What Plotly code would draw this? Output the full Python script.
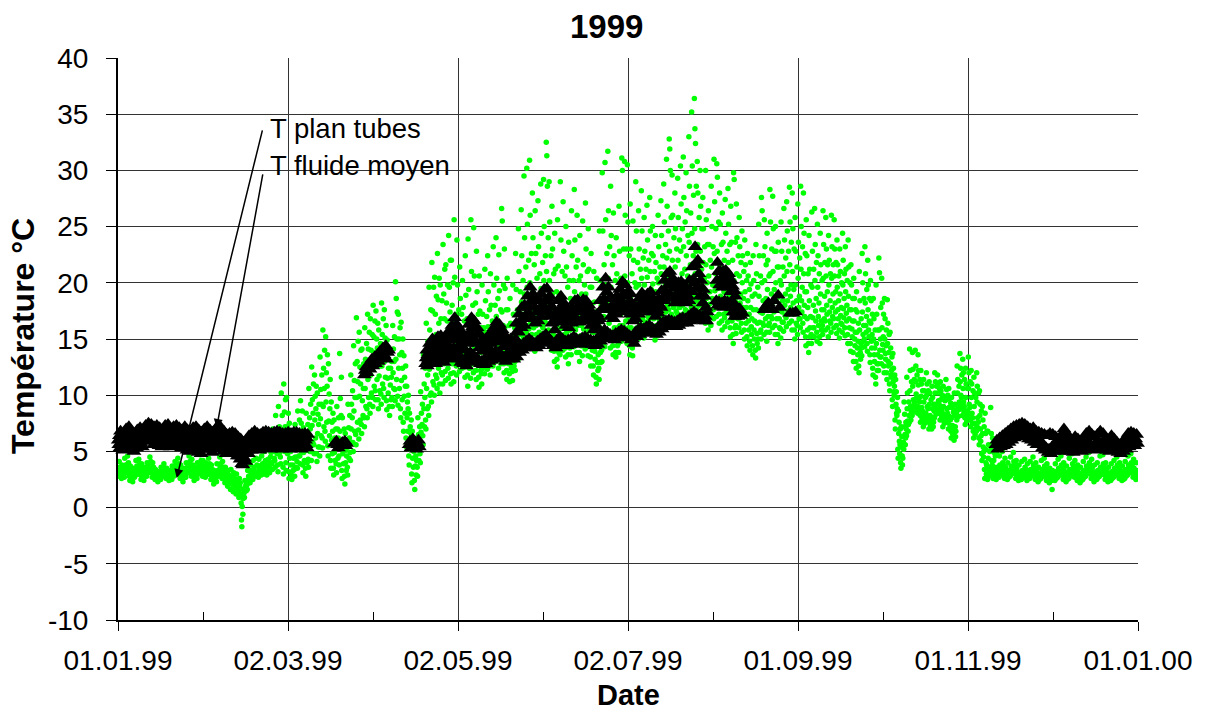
import plotly.graph_objects as go

# ---------------- data ----------------
tick_labels = ["01.01.99", "02.03.99", "02.05.99", "02.07.99", "01.09.99", "01.11.99", "01.01.00"]
y_ticks = [-10, -5, 0, 5, 10, 15, 20, 25, 30, 35, 40]
y_tick_labels = ["-10", "-5", "0", "5", "10", "15", "20", "25", "30", "35", "40"]
month_lengths = [31, 28, 31, 30, 31, 30, 31, 31, 30, 31, 30, 31]

# T plan tubes: samples per day (each inner list = one day)
plan_jan = [[3.2,2.8,4.1,3.6],[2.9,2.6,3.8,3.3],[3.0,2.7,4.4,3.5],[3.4,3.1,4.6,3.9],[2.8,2.4,3.7,3.1],
            [2.6,2.3,3.5,3.0],[3.1,2.9,4.2,3.4],[3.3,3.0,4.3,3.7],[2.9,2.5,3.9,3.2],[2.7,2.4,3.6,3.0],
            [3.0,2.8,4.0,3.4],[3.4,3.2,4.5,3.8],[3.1,2.7,4.0,3.5],[2.8,2.5,3.4,3.0],[2.6,2.3,3.2,2.9],
            [2.7,2.5,3.6,3.1],[3.0,2.8,3.9,3.3],[2.9,2.6,3.5,3.1],[2.6,2.4,3.3,2.8],[2.8,2.5,3.7,3.0],
            [3.1,2.9,4.1,3.5],[3.3,3.0,4.4,3.7],[2.9,2.6,3.8,3.2],[2.7,2.3,3.5,3.0],[3.0,2.7,4.0,3.4],
            [3.4,3.1,4.6,3.9],[3.2,2.8,4.3,3.6],[2.8,2.4,3.6,3.1],[3.0,2.6,4.0,3.3],[3.5,3.2,4.7,4.0],
            [3.1,2.8,4.2,3.5]]
plan_feb = [[3.0,2.7,4.0,3.4],[3.3,3.0,4.4,3.7],[2.9,2.5,3.8,3.2],[2.5,2.1,3.3,2.8],[2.7,2.3,3.9,3.0],
            [3.2,2.9,4.5,3.6],[3.0,2.6,4.1,3.4],[2.6,2.2,3.6,2.9],[2.4,1.9,3.3,2.7],[2.2,1.6,3.4,2.6],
            [2.0,1.4,3.1,2.3],[1.8,1.2,3.0,2.2],[1.5,0.9,2.6,1.9],[0.4,-1.1,-1.7,0.1,1.2],[1.3,0.9,2.4,1.8],
            [2.0,1.6,3.3,2.5],[2.6,2.2,3.8,3.0],[2.9,2.5,4.2,3.3],[3.1,2.8,4.4,5.2],[3.0,2.7,4.3,3.5],
            [3.2,2.9,4.6,3.8],[3.4,3.0,5.0,4.0],[3.3,2.9,5.4,4.1],[3.6,3.1,6.2,4.5],[3.9,3.4,7.0,5.0],
            [4.2,3.6,8.2,5.5],[3.8,3.2,9.0,5.8],[4.5,3.9,10.2,6.4]]
plan_mar = [[3.6,3.0,11.0,6.0,8.5],[4.0,3.3,9.8,5.5,7.2],[3.2,2.6,7.5,4.4,5.6],[2.9,2.5,6.0,3.8],
            [3.4,2.8,7.4,4.5],[4.1,3.5,8.6,5.4,6.8],[4.6,3.9,9.5,6.1,7.5],[3.8,3.1,7.1,4.9,5.9],
            [3.5,2.8,8.4,5.1,6.4],[4.3,3.6,10.6,6.2,8.0],[5.0,4.2,12.5,7.3,9.6],[5.6,4.8,11.8,7.8,9.9],
            [4.8,4.1,10.2,6.6,8.3],[5.4,4.6,13.4,7.9,10.5],[6.2,5.3,15.8,9.0,12.4],[6.8,5.9,15.2,9.4,12.0],
            [5.5,4.6,12.8,7.7,10.1],[4.2,3.5,9.4,6.0,7.6],[3.5,2.9,7.8,4.9,6.2],[3.9,3.1,9.0,5.5,7.0],
            [4.6,3.8,13.7,6.8,9.7],[3.3,2.6,8.0,4.8,6.0],[2.8,2.1,6.6,4.0,5.1],[3.6,2.9,9.2,5.4,7.1],
            [4.9,4.2,11.8,7.0,9.2],[5.8,5.0,14.4,8.6,11.3],[6.5,5.6,16.9,9.8,13.0],[6.9,6.1,15.6,9.9,12.5],
            [7.4,6.6,14.1,9.5,11.8],[8.0,7.2,16.0,10.6,13.2],[8.8,8.0,17.2,11.4,14.1]]
plan_apr = [[9.2,8.4,16.8,11.8,14.0],[9.8,9.0,18.0,12.5,15.2],[10.4,9.6,17.5,12.9,15.0],[9.6,8.8,15.8,11.7,13.6],
            [10.1,9.2,18.2,12.6,15.4],[10.6,9.8,17.6,13.0,15.1],[9.5,8.7,14.9,11.5,13.2],[9.0,8.2,13.8,10.9,12.4],
            [9.8,9.0,16.2,12.0,14.1],[10.5,9.5,20.1,13.2,18.6],[9.9,9.1,17.2,12.4,15.0],[8.8,8.0,16.5,11.3,13.8],
            [7.6,6.8,13.5,9.9,11.6],[6.2,5.4,10.8,8.0,9.4],[4.6,3.8,8.4,6.1,7.2],[3.0,2.2,6.8,4.4,5.5],
            [2.4,1.6,5.9,3.7,4.6],[3.6,2.8,8.0,5.2,6.5],[4.8,4.0,10.3,6.7,8.4],[6.4,5.6,13.6,8.8,11.0],
            [7.8,7.0,16.4,10.6,13.2],[9.0,8.2,19.6,12.3,15.8],[10.2,9.4,21.8,13.6,17.5],[10.9,10.0,20.5,14.0,17.2],
            [11.5,10.6,22.6,14.8,18.5],[11.0,10.2,19.8,14.1,16.8],[11.8,11.0,23.4,15.2,19.0],[12.1,11.3,21.6,15.0,18.2],
            [12.4,11.5,24.2,15.8,19.6],[11.9,11.0,22.0,15.1,18.0]]
plan_may = [[12.0,11.2,25.6,15.8,20.5,13.5],[12.6,11.8,23.8,16.2,19.8,14.0],[12.9,12.1,21.4,15.9,18.6,14.2],
            [13.2,12.4,20.2,15.6,17.8,14.4],[12.5,11.6,22.4,15.4,18.9,13.7],[11.8,10.8,23.9,15.0,19.4,13.2],
            [12.4,11.5,25.6,16.0,21.0,13.9],[12.8,12.0,24.9,16.4,20.6,14.3],[12.2,11.4,22.8,15.6,19.2,13.6],
            [11.6,10.7,20.6,14.6,17.5,12.9],[11.9,11.0,19.8,14.8,17.2,13.1],[12.7,11.9,21.2,15.6,18.4,13.9],
            [13.1,12.3,22.4,16.1,19.2,14.4],[12.6,11.8,20.8,15.4,18.0,13.8],[13.4,12.6,23.2,16.5,19.8,14.6],
            [13.8,13.0,24.0,17.0,20.4,15.1],[13.2,12.4,22.5,16.2,19.3,14.4],[13.6,12.8,26.6,17.4,25.5,15.0],
            [12.8,12.0,23.0,16.0,19.5,14.0],[12.2,11.4,20.4,15.0,17.6,13.3],[11.9,11.2,18.6,14.2,16.4,12.8],
            [12.1,11.3,19.8,14.8,17.2,13.0],[13.0,12.2,22.6,16.0,19.4,14.2],[14.0,13.2,24.8,17.4,21.0,15.4],
            [14.8,14.0,26.5,18.3,22.4,16.2],[15.2,14.4,29.5,19.0,24.0,16.8],[15.6,14.8,30.2,19.6,25.2,17.2],
            [15.9,15.0,30.9,20.0,26.0,17.5],[15.4,14.5,28.0,19.2,24.0,17.0],[14.8,13.9,26.4,18.4,22.6,16.2],
            [15.0,14.2,27.3,18.9,23.2,16.6]]
plan_jun = [[15.5,14.6,28.8,19.5,24.4,17.1],[16.0,15.2,29.2,20.2,25.0,17.6],[16.4,15.5,32.5,21.0,31.3,18.0,28.6],
            [15.8,14.9,29.0,20.2,25.4,17.4],[14.9,14.0,26.8,19.0,23.0,16.4],[13.9,13.0,24.4,17.6,21.2,15.2],
            [13.2,12.5,25.6,17.2,21.5,14.8],[14.4,13.6,29.0,18.8,23.8,16.0],[14.8,14.0,27.2,18.6,22.8,16.3],
            [14.2,13.4,25.0,17.8,21.4,15.6],[13.6,12.8,23.6,17.0,20.2,15.0],[14.5,13.6,26.4,18.4,22.4,16.0],
            [15.2,14.3,28.3,19.2,23.8,16.8],[14.6,13.8,26.0,18.5,22.0,16.2],[13.8,13.0,24.2,17.4,20.6,15.3],
            [14.4,13.5,25.5,18.1,21.6,15.9],[15.0,14.1,27.1,19.0,23.0,16.6],[14.3,13.5,24.8,17.9,21.2,15.8],
            [13.4,12.6,22.6,16.8,19.6,14.8],[12.6,11.8,21.0,15.6,18.3,13.9],[11.6,11.0,20.4,14.6,17.5,12.9],
            [12.4,11.4,24.6,16.0,20.2,13.8],[14.0,13.0,29.8,18.6,24.6,15.6],[15.2,14.3,30.7,19.8,25.6,16.9],
            [15.8,15.0,31.7,20.4,26.4,17.5],[15.0,14.2,28.6,19.6,24.2,16.8],[14.4,13.6,26.2,18.6,22.4,16.0],
            [13.8,13.4,24.0,17.4,20.8,15.2],[14.6,13.8,26.8,18.6,22.8,16.2],[15.6,14.8,31.1,20.2,30.0,17.4]]
plan_jul = [[16.0,15.2,30.8,20.6,26.0,17.8],[15.4,14.6,30.5,20.0,25.4,17.0],[14.4,13.6,27.0,18.8,23.0,16.0],
            [14.2,13.5,25.5,18.2,22.0,15.6],[15.4,14.6,29.0,19.6,24.6,17.0],[15.8,15.0,26.4,19.8,23.0,17.3],
            [16.2,15.4,28.2,20.4,24.6,17.8],[15.9,15.1,25.8,19.8,22.8,17.4],[16.4,15.6,26.9,20.5,23.8,18.0],
            [16.8,16.0,27.6,21.0,24.6,18.4],[16.2,15.4,25.0,19.9,22.4,17.7],[15.6,14.9,24.2,19.2,21.8,17.1],
            [16.1,15.3,26.0,20.0,23.2,17.6],[16.6,15.8,27.3,20.8,24.2,18.2],[17.0,16.3,28.8,21.4,25.4,18.6],
            [17.4,16.6,31.0,22.2,26.8,19.0],[17.6,16.8,32.8,22.8,31.9,19.3,30.0],[17.2,16.5,29.6,22.0,26.0,18.9],
            [16.9,16.2,28.0,21.4,24.8,18.5],[17.3,16.6,29.3,22.0,25.8,18.9],[17.8,17.0,30.4,22.8,27.0,19.5],
            [18.0,17.2,31.2,23.2,27.6,19.8],[17.6,16.8,29.8,22.4,26.4,19.3],[18.2,17.4,33.0,23.6,28.6,20.0],
            [18.6,17.8,35.2,24.4,30.4,20.5],[18.8,18.0,36.4,24.8,33.7,20.8,32.4],[18.4,17.6,30.8,23.4,28.0,20.2],
            [18.0,17.2,30.0,22.8,26.8,19.8],[17.4,16.7,27.6,21.8,24.8,19.0],[17.0,16.4,30.0,21.6,25.6,18.6],
            [16.5,15.8,26.4,20.6,23.4,18.1]]
plan_aug = [[17.0,16.2,28.6,21.4,25.0,18.6],[17.6,16.8,31.0,22.6,27.2,19.3],[17.8,17.0,30.6,22.8,29.4,19.5],
            [17.2,16.4,28.0,21.6,25.2,18.8],[16.6,15.8,26.2,20.6,23.6,18.1],[16.9,16.1,27.4,21.2,24.4,18.4],
            [17.3,16.5,28.4,21.8,25.2,18.9],[16.0,15.2,26.8,20.4,23.6,17.6],[15.4,14.6,29.8,20.2,29.2,17.0],
            [16.2,15.5,27.0,20.8,24.0,17.8],[16.8,16.0,25.8,20.6,23.2,18.2],[16.4,15.6,24.6,20.0,22.4,17.8],
            [15.8,15.0,23.8,19.2,21.6,17.2],[15.2,14.4,22.6,18.4,20.6,16.6],[14.8,14.0,21.8,17.8,19.9,16.1],
            [14.4,13.6,22.4,17.6,20.2,15.8],[14.0,13.3,23.4,17.6,20.8,15.5],[15.0,14.2,25.2,18.8,22.4,16.5],
            [15.8,15.0,27.6,20.0,26.4,17.3],[16.2,15.4,25.6,20.2,23.2,17.6],[15.6,14.8,24.4,19.4,22.0,17.0],
            [16.4,15.6,28.3,20.8,25.4,17.9],[16.8,16.0,27.7,21.0,24.8,18.3],[16.2,15.4,25.0,20.0,22.8,17.6],
            [15.4,14.6,23.6,19.0,21.4,16.8],[15.9,15.1,25.4,19.8,22.8,17.4],[16.5,15.7,26.6,20.6,23.8,18.0],
            [16.9,16.1,27.2,21.0,24.6,18.4],[17.2,16.4,28.5,21.6,25.4,18.8],[16.6,15.8,28.0,21.0,24.8,18.2],
            [15.8,15.0,25.8,19.8,22.8,17.3]]
plan_sep = [[16.2,15.4,27.0,20.4,23.6,17.8],[16.8,16.0,28.6,21.2,25.0,18.4],[16.4,15.6,28.0,20.8,24.4,18.0],
            [15.2,14.4,25.6,19.2,22.4,16.8],[14.6,13.8,24.2,18.4,21.2,16.0],[15.4,14.6,26.3,19.6,22.8,16.9],
            [16.0,15.2,26.6,20.2,23.4,17.5],[15.6,14.8,25.2,19.6,22.4,17.0],[15.2,14.6,24.4,19.0,21.6,16.6],
            [16.2,15.4,26.4,20.4,23.4,17.6],[16.6,15.8,25.8,20.6,23.0,18.0],[16.0,15.2,24.2,19.8,22.0,17.4],
            [16.4,15.6,26.0,20.4,23.2,17.8],[16.8,16.0,25.6,20.6,23.0,18.2],[16.2,15.5,23.8,19.6,21.6,17.6],
            [15.8,15.1,23.0,19.0,21.0,17.1],[16.3,15.6,24.4,19.8,22.0,17.7],[16.0,15.3,23.2,19.2,21.2,17.3],
            [15.4,14.6,23.8,18.8,21.4,16.8],[14.6,13.9,21.6,17.6,19.8,15.9],[13.8,13.0,20.4,16.6,18.6,15.0],
            [13.0,12.4,19.2,15.6,17.4,14.2],[12.6,12.0,21.0,15.8,18.4,13.8],[14.2,13.5,22.6,17.4,20.0,15.4],
            [15.0,14.3,23.2,18.2,20.8,16.2],[14.6,13.9,22.0,17.6,19.8,15.8],[13.6,12.9,20.2,16.4,18.4,14.8],
            [12.4,11.8,18.6,15.0,16.8,13.6],[11.6,11.0,19.8,14.6,17.2,12.8],[12.8,12.2,22.2,15.8,20.9,14.0]]
plan_oct = [[13.4,12.8,20.4,16.0,18.2,14.5],[12.6,12.0,18.6,15.0,16.8,13.7],[12.0,11.4,18.5,14.6,16.4,13.0],
            [11.0,10.4,15.6,12.8,14.2,11.8],[9.6,9.0,13.7,11.2,12.4,10.3],[7.8,7.0,11.4,9.2,10.3,8.4],
            [5.2,4.4,8.6,6.6,7.6,5.9],[4.0,3.5,7.2,5.4,6.3,4.6],[5.8,5.2,9.4,7.2,8.3,6.5],
            [7.0,6.4,11.6,8.8,10.2,7.7],[8.2,7.6,14.1,10.4,12.2,9.0],[8.8,8.2,13.8,10.8,12.3,9.6],
            [9.4,8.8,14.0,11.2,12.6,10.1],[9.0,8.4,13.6,10.9,12.2,9.7],[8.2,7.6,12.2,9.9,11.0,8.9],
            [7.8,7.2,11.4,9.4,10.4,8.4],[8.4,7.8,12.0,10.0,11.0,9.0],[7.6,7.0,11.2,9.2,10.2,8.2],
            [7.4,7.0,10.8,8.8,9.8,8.0],[8.6,8.0,12.0,10.2,11.2,9.2],[9.0,8.4,11.8,10.2,11.0,9.5],
            [8.4,7.8,11.2,9.6,10.4,8.9],[7.8,7.2,10.8,9.0,9.9,8.3],[8.2,7.6,11.4,9.6,10.5,8.8],
            [7.6,7.0,10.6,8.9,9.7,8.1],[6.8,6.2,9.8,8.0,8.9,7.3],[6.6,6.0,10.2,8.2,9.2,7.2],
            [8.4,7.8,12.6,10.2,11.4,9.0],[9.4,8.8,13.7,11.2,12.4,10.0],[8.8,8.2,13.2,10.6,12.0,9.4],
            [8.0,7.4,12.4,9.8,11.0,8.6]]
plan_nov = [[8.6,8.0,13.4,10.6,12.0,9.2],[7.8,7.2,12.2,9.8,11.0,8.4],[6.8,6.2,11.6,9.0,10.2,7.5],
            [7.4,6.8,12.0,9.4,10.8,8.0],[6.2,5.6,10.4,8.2,9.2,7.0],[4.8,4.2,9.0,6.6,7.8,5.4],
            [3.4,2.6,8.4,5.2,6.6,4.0],[3.0,2.5,6.8,4.4,5.6,3.5],[3.6,3.0,8.9,5.3,6.6,4.2],
            [3.2,2.6,5.8,4.2,4.9,3.6],[3.0,2.5,4.8,3.6],[3.2,2.7,4.6,3.8],[3.4,2.9,5.0,4.0],
            [3.1,2.6,4.4,3.6],[2.9,2.5,4.0,3.3],[3.2,2.8,4.5,3.7],[3.5,3.1,4.9,4.1],[3.0,2.6,4.2,3.5],
            [2.7,2.4,3.8,3.1],[2.9,2.5,4.1,3.3],[3.1,2.7,4.3,3.6],[2.8,2.4,3.9,3.2],[3.0,2.6,4.1,3.4],
            [3.3,2.9,4.5,3.8],[2.9,2.5,4.0,3.3],[2.7,2.3,3.6,3.0],[3.0,2.6,4.2,3.4],[3.2,2.8,4.4,3.7],
            [2.8,2.4,3.9,3.2],[2.6,2.2,3.5,2.9]]
plan_dec = [[2.4,1.6,3.3,2.8],[2.8,2.4,3.9,3.2],[3.1,2.7,4.3,3.5],[3.3,2.9,4.6,3.8],[2.9,2.5,4.0,3.3],
            [2.7,2.3,3.7,3.1],[3.0,2.6,4.4,3.4],[3.4,3.0,4.8,3.9],[3.1,2.7,4.2,3.5],[2.8,2.4,3.8,3.2],
            [2.6,2.2,3.6,3.0],[2.9,2.5,4.1,3.3],[3.2,2.8,4.5,3.7],[3.5,3.1,4.9,4.0],[3.0,2.6,4.3,3.5],
            [2.7,2.3,3.8,3.1],[2.9,2.5,4.0,3.3],[3.2,2.8,4.6,3.6],[3.4,3.0,4.7,3.9],[2.9,2.5,4.0,3.3],
            [2.6,2.3,3.6,3.0],[2.8,2.4,3.9,3.2],[3.1,2.7,4.2,3.5],[3.3,2.9,4.5,3.8],[2.9,2.6,4.0,3.4],
            [2.7,2.4,3.7,3.1],[3.0,2.6,4.1,3.4],[3.3,2.9,4.6,3.8],[3.5,3.1,4.8,4.0],[3.1,2.7,4.3,3.5],
            [2.9,2.5,4.0,3.3]]

# further T plan tubes samples of the same days (the dense lower part of the cloud)
plan_jan_b = [[3.5,3.0],[3.1,2.8],[3.8,3.2],[4.0,3.6],[3.3,2.9],[2.9,2.7],[3.7,3.2],[3.9,3.4],[3.4,3.0],[3.2,2.8],
              [3.6,3.1],[4.1,3.6],[3.6,3.2],[3.1,2.7],[2.9,2.6],[3.3,2.9],[3.5,3.1],[3.2,2.8],[2.9,2.6],[3.3,2.8],
              [3.7,3.2],[3.9,3.4],[3.4,3.0],[3.1,2.7],[3.6,3.1],[4.1,3.6],[3.8,3.3],[3.3,2.9],[3.6,3.0],[4.2,3.7],
              [3.7,3.3]]
plan_feb_b = [[3.6,3.1],[3.9,3.4],[3.4,3.0],[3.0,2.5],[3.3,2.8],[3.9,3.3],[3.6,3.1],[3.1,2.6],[2.9,2.3],[2.8,2.1],
              [2.6,1.8],[2.5,1.6],[2.2,1.2],[-0.6,0.8,1.6],[2.0,1.5],[2.8,2.2],[3.3,2.7],[3.6,3.0],[3.8,3.2],[3.7,3.1],
              [3.9,3.4],[4.2,3.6],[4.3,3.7],[4.9,4.0],[5.6,4.4],[6.4,4.8],[7.2,4.9],[8.2,5.6]]
plan_mar_b = [[5.0,7.2,9.6],[4.8,6.6,8.4],[3.8,5.0,6.6],[3.3,4.4,5.2],[3.6,5.2,6.4],[4.6,6.2,7.8],[5.0,6.8,8.6],
              [4.2,5.4,6.6],[4.0,5.8,7.4],[5.0,7.0,9.2],[5.8,8.4,11.0],[6.2,8.8,10.8],[5.4,7.4,9.2],[6.4,9.2,11.8],
              [7.2,10.6,14.0],[7.6,10.8,13.6],[6.4,8.8,11.4],[4.8,6.8,8.4],[4.2,5.6,7.0],[4.4,6.2,8.0],[5.4,8.2,11.6],
              [3.9,5.4,7.0],[3.3,4.6,5.8],[4.4,6.2,8.2],[5.8,8.0,10.4],[6.8,9.8,12.8],[7.6,11.2,14.8],[7.8,11.0,14.0],
              [8.2,10.6,12.8],[9.0,11.8,14.6],[9.8,12.6,15.6]]
plan_apr_b = [[10.2,13.0,15.4],[10.8,13.8,16.6],[11.4,14.2,16.4],[10.4,12.6,14.6],[11.0,13.8,16.8],[11.6,14.0,16.2],
              [10.2,12.4,14.0],[9.6,11.6,13.0],[10.6,13.0,15.2],[11.4,15.0,17.4],[10.6,13.6,16.0],[9.6,12.4,15.0],
              [8.4,10.8,12.6],[6.8,8.8,10.0],[5.2,6.6,7.8],[3.6,5.0,6.2],[2.9,4.2,5.2],[4.2,5.8,7.2],[5.4,7.4,9.2],
              [7.2,9.8,12.4],[8.8,11.8,14.8],[10.0,13.8,17.6],[11.2,15.2,19.6],[11.8,15.4,18.8],[12.4,16.4,20.4],
              [12.0,15.2,18.4],[12.8,16.8,21.2],[13.0,16.6,19.8],[13.4,17.4,22.0],[12.8,16.4,20.0]]
plan_may_b = [[13.0,14.6,17.2],[13.4,15.2,17.6],[13.6,15.0,17.2],[13.8,15.0,16.6],[13.0,14.6,16.8],[12.4,14.0,16.8],
              [13.0,15.0,18.0],[13.5,15.4,18.2],[12.8,14.6,17.2],[12.2,13.8,16.0],[12.4,14.0,16.0],[13.2,14.8,17.0],
              [13.8,15.4,17.6],[13.2,14.6,16.6],[14.0,15.6,18.0],[14.4,16.2,18.6],[13.8,15.4,17.6],[14.2,16.2,19.8],
              [13.4,15.0,17.6],[12.8,14.2,16.2],[12.4,13.6,15.2],[12.6,14.0,16.0],[13.6,15.4,17.6],[14.6,16.4,19.2],
              [15.4,17.2,20.2],[15.8,17.8,21.4],[16.2,18.2,22.0],[16.4,18.6,22.6],[16.0,18.0,21.6],[15.4,17.2,20.4],
              [15.6,17.6,20.8]]
plan_jun_b = [[16.2,18.2,21.8],[16.6,18.8,22.4],[17.0,19.4,24.0],[16.4,18.6,22.4],[15.4,17.6,20.8],[14.4,16.2,19.2],
              [13.8,15.8,19.0],[15.0,17.4,21.0],[15.4,17.4,20.6],[14.8,16.6,19.6],[14.2,15.8,18.6],[15.0,17.0,20.2],
              [15.8,17.8,21.4],[15.2,17.2,20.2],[14.4,16.2,19.0],[15.0,16.8,19.8],[15.6,17.6,21.0],[14.8,16.6,19.6],
              [14.0,15.6,18.2],[13.2,14.6,17.0],[12.2,13.6,16.2],[12.9,14.8,18.0],[14.6,17.0,21.6],[15.8,18.2,22.6],
              [16.4,18.8,23.2],[15.6,18.0,21.6],[15.0,17.2,20.2],[14.4,16.0,18.8],[15.2,17.2,20.4],[16.2,18.6,23.0]]
plan_jul_b = [[16.6,19.0,23.0],[16.0,18.4,22.4],[15.0,17.4,20.8],[14.8,16.8,20.0],[16.0,18.2,21.8],[16.4,18.4,21.2],
              [16.8,19.0,22.2],[16.5,18.4,21.2],[17.0,19.0,22.0],[17.4,19.4,22.6],[16.8,18.6,21.0],[16.2,17.8,20.4],
              [16.7,18.6,21.4],[17.2,19.2,22.4],[17.6,19.8,23.4],[18.0,20.4,24.6],[18.2,20.8,25.8],[17.8,20.2,24.0],
              [17.5,19.8,23.0],[17.9,20.2,23.8],[18.4,20.8,24.8],[18.6,21.2,25.4],[18.2,20.6,24.2],[18.8,21.6,26.2],
              [19.2,22.4,27.8],[19.4,22.8,28.6],[19.0,21.8,25.8],[18.6,21.2,24.8],[18.0,20.4,23.2],[17.6,20.0,23.4],
              [17.0,19.2,22.0]]
plan_aug_b = [[17.6,19.8,23.2],[18.2,20.8,24.8],[18.4,21.0,25.4],[17.8,20.0,23.4],[17.2,19.2,22.0],[17.5,19.8,22.8],
              [17.9,20.2,23.4],[16.6,18.8,22.0],[16.0,18.4,23.6],[16.8,19.0,22.4],[17.4,19.0,21.8],[17.0,18.6,21.0],
              [16.4,17.8,20.2],[15.8,17.2,19.4],[15.4,16.8,18.8],[15.0,16.6,19.0],[14.6,16.4,19.6],[15.6,17.4,20.6],
              [16.4,18.4,22.4],[16.8,18.6,21.6],[16.2,17.8,20.6],[17.0,19.0,23.0],[17.4,19.4,22.8],[16.8,18.6,21.4],
              [16.0,17.6,20.2],[16.5,18.4,21.4],[17.1,19.0,22.2],[17.5,19.4,22.8],[17.8,19.8,23.6],[17.2,19.4,23.0],
              [16.4,18.4,21.4]]
plan_sep_b = [[16.8,18.8,22.2],[17.4,19.6,23.2],[17.0,19.2,22.6],[15.8,17.8,20.8],[15.2,17.0,19.8],[16.0,18.0,21.2],
              [16.6,18.6,21.8],[16.2,18.2,20.8],[15.8,17.6,20.2],[16.8,18.8,21.8],[17.2,19.2,21.6],[16.6,18.4,20.8],
              [17.0,19.0,21.6],[17.4,19.2,21.8],[16.8,18.4,20.6],[16.4,17.8,20.0],[16.9,18.6,20.8],[16.6,18.0,20.2],
              [16.0,17.6,20.0],[15.2,16.6,18.6],[14.4,15.6,17.6],[13.6,14.8,16.4],[13.2,14.6,16.8],[14.8,16.2,18.6],
              [15.6,17.0,19.4],[15.2,16.6,18.6],[14.2,15.4,17.2],[13.0,14.2,15.8],[12.2,13.6,15.8],[13.4,15.0,17.8]]
plan_oct_b = [[14.0,15.2,17.2],[13.2,14.4,15.8],[12.6,13.8,15.4],[11.6,12.2,13.4],[10.0,10.8,11.8],[8.2,8.8,9.8],
              [4.8,5.6,7.0],[3.8,4.4,5.8],[5.6,6.2,7.6],[6.8,7.4,9.4],[7.8,8.6,11.2],[8.5,9.2,11.4],[9.0,9.8,11.8],
              [8.7,9.4,11.4],[7.9,8.6,10.4],[7.5,8.1,9.8],[8.1,8.8,10.4],[7.3,7.9,9.6],[7.2,7.6,9.2],[8.3,8.9,10.8],
              [8.7,9.2,10.6],[8.1,8.6,10.0],[7.5,8.0,9.5],[7.9,8.4,10.0],[7.3,7.8,9.3],[6.5,7.0,8.5],[6.3,6.8,8.7],
              [8.1,8.7,10.8],[9.1,9.8,11.8],[8.5,9.0,11.4],[7.7,8.2,10.6]]
plan_nov_b = [[8.3,8.9,11.2],[7.5,8.0,10.4],[6.5,7.0,9.8],[7.1,7.6,10.2],[5.9,6.4,8.6],[4.5,5.0,7.2],[3.0,3.8,6.8],
              [2.8,3.2,5.0],[3.3,3.8,6.2],[2.9,3.4,4.6],[2.8,3.3],[3.0,3.5],[3.2,3.7],[2.9,3.3],[2.7,3.1],[3.0,3.4],
              [3.3,3.8],[2.8,3.2],[2.6,2.9],[2.7,3.1],[2.9,3.4],[2.6,3.0],[2.8,3.2],[3.1,3.6],[2.7,3.1],[2.5,2.8],
              [2.8,3.2],[3.0,3.5],[2.6,3.0],[2.4,2.7]]
plan_dec_b = [[2.6,3.0],[2.6,3.0],[2.9,3.3],[3.1,3.6],[2.7,3.1],[2.5,2.9],[2.8,3.2],[3.2,3.7],[2.9,3.3],[2.6,3.0],
              [2.4,2.8],[2.7,3.1],[3.0,3.5],[3.3,3.8],[2.8,3.2],[2.5,2.9],[2.7,3.1],[3.0,3.4],[3.2,3.6],[2.7,3.1],
              [2.4,2.8],[2.6,3.0],[2.9,3.3],[3.1,3.6],[2.7,3.2],[2.5,2.9],[2.8,3.2],[3.1,3.6],[3.3,3.8],[2.9,3.3],
              [2.7,3.1]]

# T fluide moyen: samples per day ([] = no data that day)
fluide_jan = [[6.0,5.6,6.4],[5.8,5.4,6.2],[6.1,5.7,6.6],[6.4,6.0,6.8],[5.9,5.5,6.3],[5.6,5.3,6.0],
              [6.0,5.6,6.5],[6.3,5.9,6.7],[6.1,5.7,6.5],[6.6,6.2,7.0],[6.9,6.4,7.2],[6.8,6.3,7.1],
              [6.5,6.0,6.9],[6.7,6.2,7.0],[6.4,5.9,6.8],[6.2,5.8,6.6],[6.6,6.1,7.0],[6.8,6.3,7.1],
              [6.3,5.8,6.7],[6.5,6.0,6.9],[6.7,6.2,7.0],[6.4,5.9,6.8],[6.2,5.7,6.6],[6.5,6.0,6.9],
              [6.1,5.5,6.6],[6.0,5.4,6.5],[6.3,5.7,6.8],[6.5,5.9,6.9],[6.0,5.3,6.6],[5.8,5.2,6.4],
              [6.2,5.6,6.7]]
fluide_feb = [[6.4,5.8,6.9],[6.1,5.5,6.6],[5.9,5.3,6.4],[6.2,5.6,6.7],[6.5,5.9,7.0],[6.3,5.7,6.8],
              [6.0,5.4,6.5],[5.7,5.1,6.2],[5.8,5.3,6.3],[6.0,5.5,6.4],[5.8,5.2,6.3],[5.5,4.9,6.0],
              [5.2,4.6,5.8],[4.6,3.9,5.4],[5.0,4.4,5.7],[5.6,5.1,6.1],[5.9,5.4,6.3],[6.1,5.6,6.5],
              [5.9,5.5,6.3],[5.8,5.4,6.2],[6.0,5.6,6.4],[6.2,5.8,6.5],[6.1,5.7,6.4],[5.9,5.5,6.3],
              [6.0,5.6,6.4],[6.2,5.8,6.5],[6.1,5.7,6.4],[5.9,5.5,6.3]]
fluide_mar = [[6.0,5.6,6.3],[6.2,5.7,6.4],[5.9,5.5,6.3],[6.1,5.6,6.4],[6.2,5.8,6.4],[6.0,5.6,6.3],
              [5.8,5.5,6.2],[6.1,5.7,6.3],[6.0,5.6,6.2],[],[],[],[],[],[],[],[],[],
              [5.7],[5.9,5.6],[],[5.8],[5.9,5.5],[],[],[],[],[],[],[11.8,12.2],[12.0,12.5]]
fluide_apr = [[12.3,12.8],[12.6,13.0],[12.8,13.3],[13.0,13.5],[13.3,13.8],[13.6,14.0],[13.2,13.8],
              [],[],[],[],[],[],[],
              [5.6,5.9],[5.4,6.1],[5.5,5.8],[5.7,6.0],[],[],
              [12.8,13.3,14.0],[13.2,13.8,14.6],[13.5,14.2,15.0],[13.0,13.9,14.8],[13.4,14.3,15.2],
              [13.6,14.4,15.3],[13.2,14.1,15.0],[13.8,14.6,15.4],[13.5,14.4,15.6],[14.0,15.0,16.2]]
fluide_may = [[14.2,15.4,16.9],[13.8,14.9,16.2],[13.4,14.5,15.8],[13.2,14.2,15.2],[13.0,14.0,15.0],
              [13.5,14.8,16.3],[13.8,15.2,16.9],[13.6,15.0,16.6],[13.3,14.6,16.0],[13.1,14.2,15.4],
              [13.0,13.9,14.8],[13.2,14.1,15.0],[13.4,14.3,15.2],[13.5,14.6,15.6],[13.7,14.8,16.0],
              [13.9,15.1,16.5],[13.8,15.0,16.3],[13.6,14.7,15.8],[13.4,14.4,15.3],[13.6,14.3,14.9],
              [13.8,14.4,15.0],[13.5,14.0],[13.8,15.0,16.4],[14.2,15.6,17.2],[14.4,16.0,17.8],
              [14.6,16.2,18.0],[14.8,16.8,18.8],[15.0,17.2,19.6],[14.8,16.8,19.0],[14.6,16.4,18.4],
              [14.8,16.6,18.6]]
fluide_jun = [[15.0,17.0,19.0],[15.2,17.4,19.4],[15.4,17.6,19.5],[15.1,17.0,18.8],[14.8,16.4,17.8],
              [14.6,15.8,17.2],[14.9,16.6,18.4],[15.2,17.0,18.8],[15.0,16.6,18.2],[14.8,16.2,17.6],
              [14.9,16.0,17.2],[15.0,16.4,17.8],[15.2,16.8,18.4],[15.0,16.7,18.5],[14.9,16.5,18.2],
              [15.1,16.8,18.5],[15.2,16.9,18.4],[15.0,16.6,18.0],[14.9,16.2,17.4],[14.8,15.8,16.8],
              [14.9,16.0,17.2],[15.2,16.8,18.4],[15.5,17.6,19.6],[15.8,18.0,20.4],[15.6,17.6,19.6],
              [15.4,17.0,18.6],[15.3,16.8,18.2],[15.5,17.2,18.8],[15.6,17.6,19.4],[15.8,18.0,20.1]]
fluide_jul = [[15.7,17.8,19.8],[15.5,17.4,19.2],[15.3,17.2,19.0],[15.0,16.6,18.0],[15.6,16.8,17.8],
              [15.8,17.2,18.6],[16.0,17.6,19.1],[15.9,17.4,18.8],[16.1,17.6,19.0],[16.2,17.8,19.2],
              [16.0,17.4,18.6],[15.8,17.0,18.2],[16.0,17.3,18.6],[16.3,17.8,19.3],[16.5,18.4,20.2],
              [16.6,18.8,20.8],[16.7,19.0,21.0],[16.6,18.6,20.4],[16.5,18.2,19.8],[16.6,18.4,20.0],
              [16.8,18.6,20.1],[16.9,18.6,19.8],[16.8,18.2,19.4],[17.0,18.4,20.2],[17.2,19.2,21.4],
              [17.4,20.0,23.2],[17.2,19.6,22.0],[17.1,18.8,20.2],[17.0,18.2,19.4],[17.0,17.8],[]]
fluide_aug = [[],[],[18.4,20.2,21.8],[18.3,19.8,21.0],[18.2,19.6,21.0],[18.4,19.8,21.1],[18.3,19.6,20.8],
              [18.2,19.2,20.2],[17.4,18.2,19.3],[17.3,17.8],[17.4,17.7],[17.3],[],[],[],[],[],[],[],
              [17.6,17.9],[17.7],[],[17.6,18.4],[],[18.9,17.8],[],[],[],[17.3],[17.3],[17.4]]
fluide_sep = []
fluide_oct = []
fluide_nov = [[],[],[],[],[],[],[],[],[],[],
              [5.6,6.0],[5.8,6.2],[5.9,6.4],[6.0,6.6],[6.2,6.8],[6.4,7.0],[6.6,7.2],[6.8,7.3],
              [6.9,7.4],[7.0,7.5],[6.8,7.4],[6.6,7.2],[6.5,7.0],[6.3,7.1],[6.1,6.8],[6.2,6.7],
              [5.8,6.6],[5.6,6.5],[5.3,6.4],[5.2,6.6]]
fluide_dec = [[5.4,6.5],[5.6,6.3],[5.5,6.1],[5.6,6.4],[5.8,7.0],[5.6,6.6],[5.4,6.2],[5.3,6.0],
              [5.5,6.3],[5.6,6.1],[5.4,5.9],[5.5,6.2],[5.6,6.6],[5.8,6.8],[5.6,6.5],[5.5,6.3],
              [5.7,6.5],[5.8,6.8],[5.6,6.6],[5.5,6.2],[5.4,6.0],[5.6,6.4],[5.5,6.1],[5.3,5.8],
              [5.2,5.6],[5.4,5.8],[5.6,6.2],[5.8,6.6],[6.0,6.7],[5.9,6.6],[6.1,6.5]]

# further T fluide moyen samples of the same days
fluide_jan_b = [[5.3,6.8],[5.1,6.6],[5.4,7.0],[5.7,7.2],[5.2,6.7],[5.0,6.4],[5.3,6.9],[5.6,7.1],[5.4,6.9],[5.9,7.3],
                [6.0,7.5],[5.9,7.4],[5.6,7.2],[5.8,7.3],[5.5,7.1],[5.4,6.9],[5.7,7.3],[5.9,7.4],[5.4,7.0],[5.6,7.2],
                [5.8,7.3],[5.5,7.1],[5.3,6.9],[5.6,7.2],[5.1,6.9],[5.0,6.8],[5.3,7.1],[5.5,7.2],[4.9,6.9],[4.8,6.7],
                [5.2,7.0]]
fluide_feb_b = [[5.4,7.2],[5.2,6.9],[4.9,6.7],[5.2,7.0],[5.5,7.3],[5.3,7.1],[5.0,6.8],[4.8,6.5],[4.9,6.6],[5.1,6.7],
                [4.9,6.6],[4.6,6.3],[4.3,6.1],[3.8,5.8],[4.1,6.0],[4.8,6.4],[5.1,6.6],[5.3,6.8],[5.2,6.6],[5.1,6.5],
                [5.3,6.7],[5.5,6.8],[5.4,6.7],[5.2,6.6],[5.3,6.7],[5.5,6.8],[5.4,6.7],[5.2,6.6]]
fluide_mar_b = [[5.3,6.6],[5.4,6.7],[5.2,6.6],[5.3,6.7],[5.5,6.7],[5.3,6.6],[5.2,6.5],[5.4,6.6],[5.3,6.5],
                [],[],[],[],[],[],[],[],[],[],[5.3],[],[5.5],[5.7],[],[],[],[],[],[],[12.5],[12.8]]
fluide_apr_b = [[13.2],[13.4],[13.6],[13.9],[14.2],[14.4],[14.0],[],[],[],[],[],[],[],
                [5.3],[5.8],[5.2],[5.4],[],[],
                [12.6,13.6],[12.9,14.2],[13.0,14.6],[12.8,14.4],[13.0,14.8],[13.2,14.9],[12.9,14.6],[13.3,15.0],
                [13.2,15.1],[13.6,15.6]]
fluide_may_b = [[13.6,16.2],[13.3,15.6],[12.9,15.2],[12.8,14.8],[12.6,14.6],[13.0,15.6],[13.4,16.1],[13.2,15.9],
                [12.9,15.4],[12.8,14.8],[12.7,14.4],[12.8,14.6],[13.0,14.8],[13.1,15.1],[13.3,15.4],[13.4,15.8],
                [13.3,15.6],[13.2,15.3],[13.0,14.9],[13.2,14.6],[13.4,14.7],[13.2,14.4],[13.4,15.7],[13.8,16.4],
                [14.0,16.9],[14.2,17.1],[14.4,17.8],[14.6,18.4],[14.4,17.9],[14.2,17.4],[14.4,17.6]]
fluide_jun_b = [[14.6,18.0],[14.8,18.4],[15.0,18.6],[14.7,17.9],[14.4,17.1],[14.2,16.5],[14.5,17.5],[14.8,17.9],
                [14.6,17.4],[14.4,16.9],[14.5,16.6],[14.6,17.1],[14.8,17.6],[14.6,17.6],[14.5,17.4],[14.7,17.6],
                [14.8,17.6],[14.6,17.3],[14.5,16.8],[14.4,16.3],[14.5,16.6],[14.8,17.6],[15.1,18.6],[15.4,19.2],
                [15.2,18.6],[15.0,17.8],[14.9,17.5],[15.1,18.0],[15.2,18.5],[15.4,19.0]]
fluide_jul_b = [[15.3,18.8],[15.1,18.3],[14.9,18.1],[14.6,17.3],[15.2,17.3],[15.4,17.9],[15.6,18.4],[15.5,18.1],
                [15.7,18.3],[15.8,18.5],[15.6,18.0],[15.4,17.6],[15.6,18.0],[15.9,18.6],[16.1,19.3],[16.2,19.8],
                [16.3,20.0],[16.2,19.5],[16.1,19.0],[16.2,19.2],[16.4,19.4],[16.5,19.2],[16.4,18.8],[16.6,19.3],
                [16.8,20.3],[17.0,21.6],[16.8,20.8],[16.7,19.5],[16.6,18.8],[16.6,17.4],[]]
fluide_aug_b = [[],[],[18.0,21.0],[17.9,20.4],[17.8,20.3],[18.0,20.5],[17.9,20.2],[17.8,19.7],[17.0,18.8],[17.0],
                [17.1],[],[],[],[],[],[],[],[],[],[18.2]]
fluide_sep_b = []
fluide_oct_b = []
fluide_nov_b = [[],[],[],[],[],[],[],[],[],[],
                [5.2],[5.4],[5.5],[5.6],[5.8],[6.0],[6.2],[6.3],[6.4],[6.5],[6.3],[6.1],[6.0],[5.8],[5.6],
                [5.7],[5.3],[5.1],[4.9],[4.8]]
fluide_dec_b = [[5.0],[5.1],[5.0],[5.2],[5.4],[5.2],[5.0],[4.9],[5.1],[5.2],[5.0],[5.1],[5.2],[5.4],[5.2],[5.1],
                [5.3],[5.4],[5.2],[5.1],[5.0],[5.2],[5.1],[4.9],[4.8],[5.0],[5.2],[5.4],[5.6],[5.5],[5.7]]

plan_sets = [
    [plan_jan, plan_feb, plan_mar, plan_apr, plan_may, plan_jun,
     plan_jul, plan_aug, plan_sep, plan_oct, plan_nov, plan_dec],
    [plan_jan_b, plan_feb_b, plan_mar_b, plan_apr_b, plan_may_b, plan_jun_b,
     plan_jul_b, plan_aug_b, plan_sep_b, plan_oct_b, plan_nov_b, plan_dec_b],
]
fluide_sets = [
    [fluide_jan, fluide_feb, fluide_mar, fluide_apr, fluide_may, fluide_jun,
     fluide_jul, fluide_aug, fluide_sep, fluide_oct, fluide_nov, fluide_dec],
    [fluide_jan_b, fluide_feb_b, fluide_mar_b, fluide_apr_b, fluide_may_b, fluide_jun_b,
     fluide_jul_b, fluide_aug_b, fluide_sep_b, fluide_oct_b, fluide_nov_b, fluide_dec_b],
]


def to_series(sets):
    """Merge the samples of each day and spread them over that day (days since 01.01.99)."""
    xs, ys = [], []
    start = 0
    for m, length in enumerate(month_lengths):
        for i in range(length):
            vals = []
            for s in sets:
                if i < len(s[m]):
                    vals.extend(s[m][i])
            n = len(vals)
            for k, v in enumerate(vals):
                xs.append(start + i + (k + 0.5) / n)
                ys.append(v)
        start += length
    return xs, ys


px_, py_ = to_series(plan_sets)
fx_, fy_ = to_series(fluide_sets)
year_len = sum(month_lengths)
major = [year_len * k / 6 for k in range(7)]
minor = [year_len * (2 * k + 1) / 12 for k in range(6)]

FONT = "Liberation Sans, Arial, sans-serif"

fig = go.Figure()
fig.add_trace(go.Scatter(x=px_, y=py_, mode="markers", name="T plan tubes",
                         marker=dict(color="#00FF00", size=5.5, symbol="circle", line=dict(width=0))))
fig.add_trace(go.Scatter(x=fx_, y=fy_, mode="markers", name="T fluide moyen", cliponaxis=False,
                         marker=dict(color="black", size=13, symbol="triangle-up", line=dict(width=0))))

fig.update_layout(
    width=1205, height=711,
    margin=dict(l=118, r=67, t=58, b=91),
    paper_bgcolor="white", plot_bgcolor="white",
    showlegend=False,
    font=dict(family=FONT, color="black", size=27),
)
fig.update_xaxes(
    range=[0, year_len], tickmode="array", tickvals=major, ticktext=tick_labels,
    showgrid=True, gridcolor="#333333", gridwidth=1, zeroline=False,
    showline=True, linecolor="black", linewidth=2,
    ticks="outside", ticklen=9, tickwidth=1, tickcolor="black",
    tickfont=dict(size=28, family=FONT), ticklabelstandoff=5,
    minor=dict(tickmode="array", tickvals=minor, ticks="inside", ticklen=8,
               tickcolor="black", tickwidth=1, showgrid=False),
)
fig.update_yaxes(
    range=[-10, 40], tickmode="array", tickvals=y_ticks, ticktext=y_tick_labels,
    showgrid=True, gridcolor="#333333", gridwidth=1, zeroline=False,
    showline=True, linecolor="black", linewidth=2,
    ticks="outside", ticklen=10, tickwidth=1, tickcolor="black",
    tickfont=dict(size=28, family=FONT), ticklabelstandoff=12,
)

# white label box behind the series labels
fig.add_shape(type="rect", xref="paper", yref="paper", x0=0.1412, x1=0.3373, y0=0.7687, y1=0.9253,
              fillcolor="white", line=dict(width=0), layer="between")

annotations = [
    dict(text="<b>1999</b>", xref="paper", yref="paper", x=0.4794, y=1.0552,
         xanchor="center", yanchor="middle", showarrow=False, font=dict(size=33)),
    dict(text="<b>Date</b>", xref="paper", yref="paper", x=0.5, y=-0.1335,
         xanchor="center", yanchor="middle", showarrow=False, font=dict(size=29)),
    dict(text="<b>Température °C</b>", xref="paper", yref="paper", x=-0.0931, y=0.5053,
         xanchor="center", yanchor="middle", showarrow=False, textangle=-90, font=dict(size=32)),
    dict(text="T plan tubes", xref="paper", yref="paper", x=0.147, y=0.8754,
         xanchor="left", yanchor="middle", showarrow=False, font=dict(size=27.5)),
    dict(text="T fluide moyen", xref="paper", yref="paper", x=0.147, y=0.8096,
         xanchor="left", yanchor="middle", showarrow=False, font=dict(size=27.5)),
    # leader arrows (tail near label, head on the series)
    dict(text="", x=21.0, y=2.63, xref="x", yref="y", ax=51.8, ay=33.7, axref="x", ayref="y",
         showarrow=True, arrowhead=2, arrowsize=1.2, arrowwidth=1.5, arrowcolor="black"),
    dict(text="", x=35.3, y=7.08, xref="x", yref="y", ax=51.9, ay=29.77, axref="x", ayref="y",
         showarrow=True, arrowhead=2, arrowsize=1.2, arrowwidth=1.5, arrowcolor="black"),
]
fig.update_layout(annotations=annotations)

fig.write_html("out.html")
